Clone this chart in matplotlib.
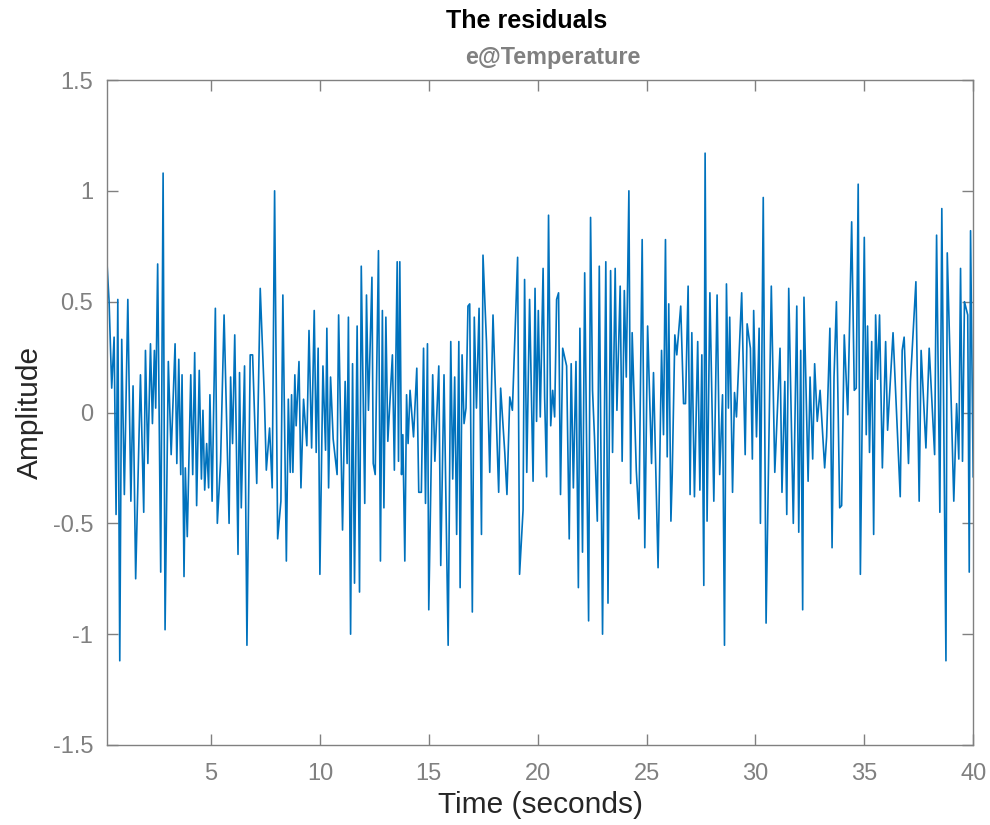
import matplotlib
matplotlib.use("Agg")
import matplotlib.pyplot as plt

# residual samples (time in s, amplitude)
t = [0.22, 0.32, 0.44, 0.55, 0.64, 0.72, 0.81, 0.90, 1.02, 1.18, 1.32, 1.42, 1.54, 1.76,
     1.91, 1.99, 2.10, 2.22, 2.31, 2.40, 2.46, 2.55, 2.69, 2.80, 2.89, 3.04, 3.17, 3.35,
     3.43, 3.52, 3.61, 3.67, 3.76, 3.82, 3.91, 4.07, 4.16, 4.25, 4.34, 4.46, 4.56, 4.63,
     4.71, 4.80, 4.89, 4.95, 5.05, 5.20, 5.29, 5.44, 5.60, 5.83, 5.90, 5.99, 6.09, 6.24,
     6.31, 6.39, 6.54, 6.65, 6.80, 6.91, 7.10, 7.26, 7.45, 7.54, 7.69, 7.81, 7.92, 8.06,
     8.21, 8.30, 8.46, 8.55, 8.64, 8.70, 8.76, 8.85, 8.91, 9.04, 9.13, 9.25, 9.40, 9.50,
     9.62, 9.74, 9.83, 9.92, 10.00, 10.14, 10.26, 10.32, 10.40, 10.49, 10.61, 10.79, 10.86,
     11.04, 11.16, 11.25, 11.31, 11.41, 11.50, 11.59, 11.71, 11.82, 11.90, 11.99, 12.06,
     12.14, 12.23, 12.39, 12.45, 12.54, 12.69, 12.78, 12.87, 12.94, 13.03, 13.12, 13.33,
     13.42, 13.55, 13.61, 13.67, 13.75, 13.81, 13.90, 13.98, 14.05, 14.14, 14.30, 14.45,
     14.54, 14.66, 14.76, 14.85, 14.94, 15.00, 15.18, 15.28, 15.46, 15.55, 15.70, 15.89,
     16.01, 16.10, 16.19, 16.28, 16.38, 16.44, 16.53, 16.62, 16.71, 16.80, 16.88, 17.00,
     17.09, 17.19, 17.31, 17.42, 17.49, 17.65, 17.80, 17.95, 18.21, 18.30, 18.49, 18.59,
     18.72, 18.84, 19.08, 19.17, 19.33, 19.40, 19.50, 19.63, 19.79, 19.88, 19.95, 20.03,
     20.12, 20.25, 20.32, 20.41, 20.50, 20.60, 20.69, 20.78, 20.87, 20.96, 21.05, 21.15,
     21.33, 21.45, 21.54, 21.64, 21.76, 21.87, 21.94, 22.06, 22.16, 22.34, 22.43, 22.52,
     22.61, 22.74, 22.83, 22.98, 23.13, 23.23, 23.35, 23.44, 23.56, 23.64, 23.79, 23.88,
     23.98, 24.07, 24.19, 24.27, 24.34, 24.53, 24.65, 24.80, 24.92, 25.05, 25.23, 25.32,
     25.53, 25.69, 25.78, 25.87, 25.95, 26.02, 26.12, 26.18, 26.30, 26.39, 26.57, 26.70,
     26.79, 26.91, 27.00, 27.08, 27.20, 27.35, 27.45, 27.54, 27.63, 27.69, 27.78, 27.91,
     28.09, 28.24, 28.36, 28.49, 28.58, 28.67, 28.76, 28.82, 28.95, 29.04, 29.13, 29.37,
     29.53, 29.62, 29.77, 29.86, 29.92, 30.05, 30.17, 30.23, 30.36, 30.49, 30.73, 30.89,
     31.13, 31.22, 31.35, 31.44, 31.53, 31.74, 31.90, 31.99, 32.08, 32.17, 32.23, 32.42,
     32.51, 32.63, 32.72, 32.84, 32.97, 33.18, 33.27, 33.42, 33.52, 33.61, 33.72, 33.87,
     33.96, 34.08, 34.24, 34.42, 34.54, 34.63, 34.72, 34.82, 35.00, 35.09, 35.15, 35.24,
     35.34, 35.43, 35.52, 35.61, 35.70, 35.83, 35.98, 36.07, 36.32, 36.65, 36.74, 36.83,
     37.03, 37.12, 37.37, 37.52, 37.61, 37.83, 37.98, 38.23, 38.32, 38.47, 38.56, 38.75,
     38.81, 39.11, 39.24, 39.34, 39.42, 39.51, 39.60, 39.75, 39.82, 39.88, 40.00]

e = [0.68, 0.50, 0.11, 0.34, -0.46, 0.51, -1.12, 0.33, -0.37, 0.51, -0.40, 0.12, -0.75, 0.17,
     -0.45, 0.28, -0.23, 0.31, -0.05, 0.28, 0.02, 0.67, -0.72, 1.08, -0.98, 0.23, -0.19, 0.31,
     -0.23, 0.24, -0.28, 0.17, -0.74, -0.25, -0.56, 0.17, -0.28, 0.27, -0.42, 0.19, -0.30, 0.01,
     -0.35, -0.14, -0.34, 0.08, -0.40, 0.47, -0.50, -0.22, 0.44, -0.50, 0.16, -0.14, 0.35, -0.64,
     0.18, -0.43, 0.21, -1.05, 0.26, 0.26, -0.32, 0.56, 0.07, -0.26, -0.07, -0.34, 1.00, -0.57,
     -0.40, 0.53, -0.67, 0.06, -0.27, 0.08, -0.27, 0.17, -0.06, 0.23, -0.34, 0.06, -0.15, 0.37,
     -0.16, 0.46, -0.18, 0.29, -0.73, 0.21, -0.17, 0.38, -0.34, 0.16, -0.12, -0.28, 0.44,
     -0.53, 0.14, -0.23, 0.43, -1.00, 0.22, -0.77, 0.39, -0.81, 0.66, 0.04, -0.41,
     0.53, 0.01, 0.61, -0.23, -0.28, 0.73, -0.67, 0.46, -0.43, 0.43, -0.13, 0.26,
     -0.26, 0.68, -0.22, 0.68, -0.28, -0.10, -0.67, 0.08, -0.14, 0.10, -0.11, 0.20,
     -0.36, -0.36, 0.29, -0.41, 0.31, -0.89, 0.17, -0.22, 0.21, -0.69, 0.17, -1.05,
     0.32, -0.30, 0.16, -0.55, 0.32, -0.79, 0.26, -0.05, 0.02, 0.48, 0.49, -0.90,
     0.43, 0.02, 0.47, -0.55, 0.71, 0.32, -0.27, 0.44, -0.36, 0.11, -0.18, -0.37,
     0.07, 0.01, 0.70, -0.73, -0.44, 0.60, -0.27, 0.51, -0.31, 0.56, -0.04, 0.46,
     -0.02, 0.65, 0.07, -0.29, 0.89, -0.06, 0.10, -0.02, 0.51, 0.54, -0.37, 0.29,
     0.21, -0.57, 0.22, -0.34, 0.23, -0.79, 0.38, -0.63, 0.63, -0.94, 0.88, 0.10,
     -0.11, -0.49, 0.66, -1.00, 0.68, -0.86, 0.64, -0.18, 0.65, 0.01, 0.57, -0.22,
     0.55, 0.16, 1.00, -0.32, 0.36, -0.26, -0.48, 0.78, -0.61, 0.39, -0.23, 0.18,
     -0.70, 0.28, -0.10, 0.78, -0.20, 0.49, -0.49, -0.28, 0.35, 0.26, 0.48, 0.04,
     0.04, 0.57, -0.37, 0.36, -0.38, 0.32, -0.35, 0.26, -0.78, 1.17, -0.49, 0.54,
     -0.40, 0.53, -0.28, 0.08, -1.05, 0.58, 0.02, 0.43, -0.36, 0.09, -0.02, 0.54,
     -0.19, 0.40, 0.29, -0.21, 0.46, -0.11, 0.38, -0.50, 0.97, -0.95, 0.57, -0.27,
     0.29, -0.36, 0.14, -0.46, 0.56, -0.50, 0.48, -0.54, 0.28, -0.89, 0.52, -0.31,
     0.16, -0.21, 0.22, -0.04, 0.10, -0.25, -0.11, 0.38, -0.61, 0.16, 0.50, -0.43,
     -0.42, 0.35, -0.01, 0.86, 0.10, 0.11, 1.03, -0.73, 0.79, -0.10, 0.39, -0.18,
     0.32, -0.55, 0.44, 0.15, 0.44, -0.25, 0.32, -0.08, 0.36, -0.38, 0.28, 0.34,
     -0.23, 0.14, 0.59, -0.40, 0.28, -0.16, 0.29, -0.19, 0.80, -0.45, 0.92, -1.12,
     0.72, -0.40, 0.04, -0.21, 0.65, -0.22, 0.50, 0.44, -0.72, 0.82, -0.29]

yticks = [-1.5, -1, -0.5, 0, 0.5, 1, 1.5]
ytick_labels = ["-1.5", "-1", "-0.5", "0", "0.5", "1", "1.5"]
xticks = [5, 10, 15, 20, 25, 30, 35, 40]

plt.rcParams['font.family'] = ['Liberation Sans', 'DejaVu Sans']

fig = plt.figure(figsize=(9.9, 8.25), dpi=100)
ax = fig.add_axes([0.108, 0.097, 0.875, 0.806])

ax.plot(t, e, color='#0072BD', lw=1.2)

ax.set_xlim(t[0], 40)
ax.set_ylim(-1.5, 1.5)
ax.set_xticks(xticks)
ax.set_xticklabels([str(x) for x in xticks])
ax.set_yticks(yticks)
ax.set_yticklabels(ytick_labels)

grey = '#808080'
for s in ax.spines.values():
    s.set_color(grey)
    s.set_linewidth(1.0)
ax.tick_params(direction='in', length=8, width=1.0, color=grey, labelcolor=grey,
               labelsize=17, top=True, right=True)
ax.tick_params(axis='x', pad=13)
ax.tick_params(axis='y', pad=10)

ax.set_xlabel('Time (seconds)', fontsize=21.5, color='#262626', labelpad=4)
ax.set_ylabel('Amplitude', fontsize=21.5, color='#262626', labelpad=6)

fig.text(0.532, 0.975, 'The residuals', ha='center', va='center',
         fontsize=18, fontweight='bold', color='black')
fig.text(0.558, 0.930, 'e@Temperature', ha='center', va='center',
         fontsize=16.8, fontweight='bold', color=grey)

fig.savefig('out.png', dpi=100)
